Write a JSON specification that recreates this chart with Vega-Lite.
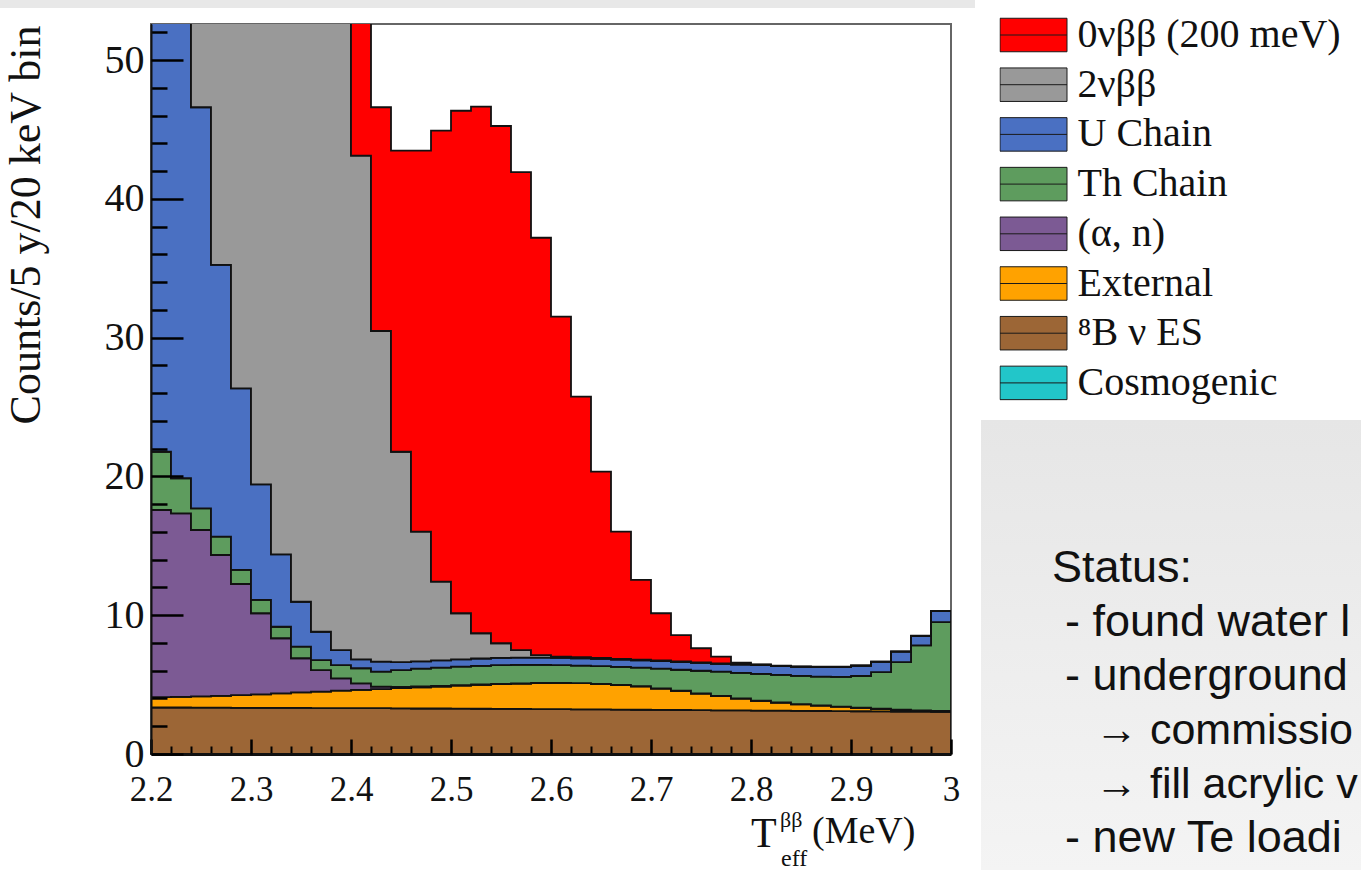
{
  "$schema": "https://vega.github.io/schema/vega-lite/v6.json",
  "width": 800,
  "height": 730,
  "autosize": {"type": "none"},
  "padding": {"left": 151, "top": 24, "right": 410, "bottom": 116},
  "background": "white",
  "view": {"stroke": "#666666", "strokeWidth": 2},
  "resolve": {"axis": {"x": "independent", "y": "independent"}},
  "layer": [
    {
      "data": {"values": [{}]},
      "mark": {"type": "rect", "color": "#e8e8e8"},
      "encoding": {
        "x": {"datum": 2.049, "type": "quantitative", "scale": {"domain": [2.2, 3.0], "nice": false, "zero": false},
              "axis": {"orient": "bottom", "values": [2.22,2.24,2.26,2.28,2.32,2.34,2.36,2.38,2.42,2.44,2.46,2.48,2.52,2.54,2.56,2.58,2.62,2.64,2.66,2.68,2.72,2.74,2.76,2.78,2.82,2.84,2.86,2.88,2.92,2.94,2.96,2.98],
                       "offset": -8, "tickSize": 8, "tickWidth": 2, "tickColor": "#000000", "labels": false, "domain": false, "grid": false, "title": null, "zindex": 2}},
        "x2": {"datum": 3.024},
        "y": {"datum": 54.33, "type": "quantitative", "scale": {"domain": [0, 52.6], "nice": false}, "axis": null},
        "y2": {"datum": 53.75}
      }
    },
    {
      "data": {"values": [{}]},
      "mark": {"type": "rect", "fill": {"gradient": "linear", "x1": 0, "y1": 0, "x2": 0, "y2": 1, "stops": [{"offset": 0, "color": "#e6e6e6"}, {"offset": 1, "color": "#f4f4f4"}]}},
      "encoding": {
        "x": {"datum": 3.03, "type": "quantitative", "scale": {"domain": [2.2, 3.0], "nice": false, "zero": false}, "axis": null},
        "x2": {"datum": 3.41},
        "y": {"datum": 24.07, "type": "quantitative", "scale": {"domain": [0, 52.6], "nice": false},
              "axis": {"orient": "left", "values": [2,4,6,8,12,14,16,18,22,24,26,28,32,34,36,38,42,44,46,48,52],
                       "offset": -16, "tickSize": 16, "tickWidth": 2.5, "tickColor": "#000000", "labels": false, "domain": false, "grid": false, "title": null, "zindex": 2}},
        "y2": {"datum": -8.36}
      }
    },
    {
      "data": {"values": [
        {"E": 2.20, "k1_b8": 3.35, "k2_ext": 0.75, "k3_an": 13.48, "k4_th": 4.20, "k5_u": 40.0, "k6_two": 95, "k7_zero": 0.5},
        {"E": 2.22, "k1_b8": 3.35, "k2_ext": 0.77, "k3_an": 13.22, "k4_th": 2.53, "k5_u": 36.1, "k6_two": 90, "k7_zero": 0.7},
        {"E": 2.24, "k1_b8": 3.34, "k2_ext": 0.81, "k3_an": 11.99, "k4_th": 1.56, "k5_u": 28.9, "k6_two": 84, "k7_zero": 1.0},
        {"E": 2.26, "k1_b8": 3.34, "k2_ext": 0.85, "k3_an": 10.15, "k4_th": 1.32, "k5_u": 19.58, "k6_two": 78, "k7_zero": 1.4},
        {"E": 2.28, "k1_b8": 3.33, "k2_ext": 0.91, "k3_an": 8.01, "k4_th": 1.01, "k5_u": 13.09, "k6_two": 72, "k7_zero": 2.0},
        {"E": 2.30, "k1_b8": 3.33, "k2_ext": 0.97, "k3_an": 5.84, "k4_th": 0.96, "k5_u": 8.33, "k6_two": 66, "k7_zero": 2.8},
        {"E": 2.32, "k1_b8": 3.32, "k2_ext": 1.05, "k3_an": 3.97, "k4_th": 0.83, "k5_u": 5.22, "k6_two": 61, "k7_zero": 3.8},
        {"E": 2.34, "k1_b8": 3.32, "k2_ext": 1.12, "k3_an": 2.46, "k4_th": 0.83, "k5_u": 3.24, "k6_two": 56, "k7_zero": 5.0},
        {"E": 2.36, "k1_b8": 3.31, "k2_ext": 1.19, "k3_an": 1.55, "k4_th": 0.72, "k5_u": 2.04, "k6_two": 51, "k7_zero": 6.6},
        {"E": 2.38, "k1_b8": 3.31, "k2_ext": 1.25, "k3_an": 0.89, "k4_th": 0.96, "k5_u": 1.08, "k6_two": 46.5, "k7_zero": 8.5},
        {"E": 2.40, "k1_b8": 3.30, "k2_ext": 1.32, "k3_an": 0.47, "k4_th": 1.09, "k5_u": 0.64, "k6_two": 36.29, "k7_zero": 12.0},
        {"E": 2.42, "k1_b8": 3.30, "k2_ext": 1.38, "k3_an": 0.17, "k4_th": 1.08, "k5_u": 0.72, "k6_two": 23.83, "k7_zero": 16.12},
        {"E": 2.44, "k1_b8": 3.29, "k2_ext": 1.45, "k3_an": 0.10, "k4_th": 1.21, "k5_u": 0.57, "k6_two": 15.16, "k7_zero": 21.69},
        {"E": 2.46, "k1_b8": 3.28, "k2_ext": 1.52, "k3_an": 0.07, "k4_th": 1.28, "k5_u": 0.53, "k6_two": 9.34, "k7_zero": 27.45},
        {"E": 2.48, "k1_b8": 3.28, "k2_ext": 1.58, "k3_an": 0.05, "k4_th": 1.31, "k5_u": 0.53, "k6_two": 5.67, "k7_zero": 32.49},
        {"E": 2.50, "k1_b8": 3.27, "k2_ext": 1.65, "k3_an": 0.04, "k4_th": 1.34, "k5_u": 0.52, "k6_two": 3.32, "k7_zero": 36.21},
        {"E": 2.52, "k1_b8": 3.26, "k2_ext": 1.72, "k3_an": 0.03, "k4_th": 1.34, "k5_u": 0.53, "k6_two": 1.82, "k7_zero": 37.94},
        {"E": 2.54, "k1_b8": 3.25, "k2_ext": 1.78, "k3_an": 0.03, "k4_th": 1.34, "k5_u": 0.52, "k6_two": 1.06, "k7_zero": 37.27},
        {"E": 2.56, "k1_b8": 3.25, "k2_ext": 1.82, "k3_an": 0.02, "k4_th": 1.33, "k5_u": 0.53, "k6_two": 0.54, "k7_zero": 34.43},
        {"E": 2.58, "k1_b8": 3.24, "k2_ext": 1.86, "k3_an": 0.02, "k4_th": 1.30, "k5_u": 0.53, "k6_two": 0.18, "k7_zero": 30.07},
        {"E": 2.60, "k1_b8": 3.23, "k2_ext": 1.89, "k3_an": 0.01, "k4_th": 1.27, "k5_u": 0.53, "k6_two": 0.09, "k7_zero": 24.49},
        {"E": 2.62, "k1_b8": 3.22, "k2_ext": 1.88, "k3_an": 0.01, "k4_th": 1.26, "k5_u": 0.53, "k6_two": 0.08, "k7_zero": 18.77},
        {"E": 2.64, "k1_b8": 3.21, "k2_ext": 1.84, "k3_an": 0.01, "k4_th": 1.27, "k5_u": 0.52, "k6_two": 0.07, "k7_zero": 13.42},
        {"E": 2.66, "k1_b8": 3.20, "k2_ext": 1.77, "k3_an": 0.01, "k4_th": 1.30, "k5_u": 0.52, "k6_two": 0.06, "k7_zero": 9.16},
        {"E": 2.68, "k1_b8": 3.19, "k2_ext": 1.68, "k3_an": 0.01, "k4_th": 1.34, "k5_u": 0.53, "k6_two": 0.05, "k7_zero": 5.74},
        {"E": 2.70, "k1_b8": 3.18, "k2_ext": 1.54, "k3_an": 0.01, "k4_th": 1.42, "k5_u": 0.55, "k6_two": 0.04, "k7_zero": 3.40},
        {"E": 2.72, "k1_b8": 3.17, "k2_ext": 1.38, "k3_an": 0.01, "k4_th": 1.51, "k5_u": 0.56, "k6_two": 0.04, "k7_zero": 1.90},
        {"E": 2.74, "k1_b8": 3.16, "k2_ext": 1.20, "k3_an": 0.01, "k4_th": 1.63, "k5_u": 0.57, "k6_two": 0.03, "k7_zero": 1.02},
        {"E": 2.76, "k1_b8": 3.15, "k2_ext": 1.02, "k3_an": 0.01, "k4_th": 1.75, "k5_u": 0.57, "k6_two": 0.03, "k7_zero": 0.48},
        {"E": 2.78, "k1_b8": 3.14, "k2_ext": 0.86, "k3_an": 0.01, "k4_th": 1.84, "k5_u": 0.60, "k6_two": 0.03, "k7_zero": 0.10},
        {"E": 2.80, "k1_b8": 3.13, "k2_ext": 0.70, "k3_an": 0.01, "k4_th": 1.93, "k5_u": 0.63, "k6_two": 0.03, "k7_zero": 0.03},
        {"E": 2.82, "k1_b8": 3.12, "k2_ext": 0.58, "k3_an": 0.01, "k4_th": 1.99, "k5_u": 0.63, "k6_two": 0.02, "k7_zero": 0.02},
        {"E": 2.84, "k1_b8": 3.11, "k2_ext": 0.47, "k3_an": 0.01, "k4_th": 2.04, "k5_u": 0.65, "k6_two": 0.02, "k7_zero": 0.01},
        {"E": 2.86, "k1_b8": 3.10, "k2_ext": 0.39, "k3_an": 0.01, "k4_th": 2.08, "k5_u": 0.68, "k6_two": 0.02, "k7_zero": 0.01},
        {"E": 2.88, "k1_b8": 3.09, "k2_ext": 0.32, "k3_an": 0.01, "k4_th": 2.14, "k5_u": 0.70, "k6_two": 0.02, "k7_zero": 0.01},
        {"E": 2.90, "k1_b8": 3.08, "k2_ext": 0.25, "k3_an": 0.01, "k4_th": 2.28, "k5_u": 0.74, "k6_two": 0.01, "k7_zero": 0.01},
        {"E": 2.92, "k1_b8": 3.07, "k2_ext": 0.18, "k3_an": 0.01, "k4_th": 2.64, "k5_u": 0.74, "k6_two": 0.01, "k7_zero": 0.01},
        {"E": 2.94, "k1_b8": 3.06, "k2_ext": 0.13, "k3_an": 0.01, "k4_th": 3.42, "k5_u": 0.75, "k6_two": 0.01, "k7_zero": 0.01},
        {"E": 2.96, "k1_b8": 3.05, "k2_ext": 0.09, "k3_an": 0.01, "k4_th": 4.67, "k5_u": 0.68, "k6_two": 0.01, "k7_zero": 0.01},
        {"E": 2.98, "k1_b8": 3.04, "k2_ext": 0.06, "k3_an": 0.01, "k4_th": 6.39, "k5_u": 0.80, "k6_two": 0.01, "k7_zero": 0.01},
        {"E": 3.00, "k1_b8": 3.04, "k2_ext": 0.06, "k3_an": 0.01, "k4_th": 6.39, "k5_u": 0.80, "k6_two": 0.01, "k7_zero": 0.01}
      ]},
      "transform": [{"fold": ["k1_b8", "k2_ext", "k3_an", "k4_th", "k5_u", "k6_two", "k7_zero"], "as": ["comp", "n"]}],
      "mark": {"type": "area", "interpolate": "step-after", "clip": true, "stroke": "#111111", "strokeWidth": 1.8, "opacity": 1},
      "encoding": {
        "x": {"field": "E", "type": "quantitative", "scale": {"domain": [2.2, 3.0], "nice": false, "zero": false},
              "axis": {"orient": "bottom", "values": [2.2, 2.3, 2.4, 2.5, 2.6, 2.7, 2.8, 2.9, 3.0], "format": "~g",
                       "ticks": false, "domainColor": "#111111", "domainWidth": 3,
                       "labelFont": "Liberation Serif", "labelFontSize": 35, "labelColor": "#111111", "labelPadding": 18,
                       "labelFlush": false, "labelOverlap": false, "labelBound": false, "grid": false, "title": null, "zindex": 2}},
        "y": {"field": "n", "type": "quantitative", "stack": "zero", "scale": {"domain": [0, 52.6], "nice": false},
              "axis": {"orient": "left", "values": [0, 10, 20, 30, 40, 50],
                       "ticks": false, "domainColor": "#111111", "domainWidth": 2,
                       "labelFont": "Liberation Serif", "labelFontSize": 40, "labelColor": "#111111", "labelPadding": 7,
                       "labelFlush": false, "labelOverlap": false, "labelBound": false, "grid": false, "zindex": 2,
                       "title": "Counts/5 y/20 keV bin", "titleFont": "Liberation Serif", "titleFontSize": 44, "titleFontWeight": "normal",
                       "titleColor": "#111111", "titleX": -112, "titleY": 1, "titleAlign": "right", "titleAngle": 270, "titleBaseline": "alphabetic"}},
        "color": {"field": "comp", "type": "nominal",
                  "scale": {"domain": ["k7_zero", "k6_two", "k5_u", "k4_th", "k3_an", "k2_ext", "k1_b8", "k0_cos"],
                            "range": ["#ff0000", "#999999", "#4a70c2", "#5e9c5e", "#7c5a94", "#ffa200", "#9c6636", "#22c6c9"]},
                  "legend": {"orient": "none", "legendX": 848.5, "legendY": -9, "title": null, "padding": 0,
                             "symbolType": "M-1,-0.5H1V0.5H-1Z M-1,0H1", "symbolSize": 4489, "symbolStrokeColor": "#1a1a1a",
                             "symbolStrokeWidth": 1, "symbolOpacity": 1, "clipHeight": 40, "rowPadding": 9.7, "labelOffset": 10,
                             "labelFont": "Liberation Serif", "labelFontSize": 40, "labelColor": "#111111", "labelLimit": 400,
                             "labelExpr": "datum.label == 'k7_zero' ? '0νββ (200 meV)' : datum.label == 'k6_two' ? '2νββ' : datum.label == 'k5_u' ? 'U Chain' : datum.label == 'k4_th' ? 'Th Chain' : datum.label == 'k3_an' ? '(α, n)' : datum.label == 'k2_ext' ? 'External' : datum.label == 'k1_b8' ? '⁸B ν ES' : 'Cosmogenic'"}},
        "order": {"field": "comp", "sort": "ascending"}
      }
    },
    {
      "data": {"values": [{}]},
      "mark": {"type": "text", "text": "Status:", "align": "left", "baseline": "alphabetic", "font": "Liberation Sans", "fontSize": 45, "color": "#111111"},
      "encoding": {
        "x": {"datum": 3.101, "type": "quantitative", "scale": {"domain": [2.2, 3.0], "nice": false, "zero": false}, "axis": null},
        "y": {"datum": 12.39, "type": "quantitative", "scale": {"domain": [0, 52.6], "nice": false}, "axis": null}
      }
    },
    {
      "data": {"values": [{}]},
      "mark": {"type": "text", "text": ["- found water l", "- underground"], "lineHeight": 54, "align": "left", "baseline": "alphabetic", "font": "Liberation Sans", "fontSize": 45, "color": "#111111"},
      "encoding": {
        "x": {"datum": 3.114, "type": "quantitative", "scale": {"domain": [2.2, 3.0], "nice": false, "zero": false}, "axis": null},
        "y": {"datum": 8.5, "type": "quantitative", "scale": {"domain": [0, 52.6], "nice": false}, "axis": null}
      }
    },
    {
      "data": {"values": [{}]},
      "mark": {"type": "text", "text": ["→ commissio", "→ fill acrylic v"], "lineHeight": 54, "align": "left", "baseline": "alphabetic", "font": "Liberation Sans", "fontSize": 43, "color": "#111111"},
      "encoding": {
        "x": {"datum": 3.144, "type": "quantitative", "scale": {"domain": [2.2, 3.0], "nice": false, "zero": false}, "axis": null},
        "y": {"datum": 0.72, "type": "quantitative", "scale": {"domain": [0, 52.6], "nice": false}, "axis": null}
      }
    },
    {
      "data": {"values": [{}]},
      "mark": {"type": "text", "text": "- new Te loadi", "align": "left", "baseline": "alphabetic", "font": "Liberation Sans", "fontSize": 45, "color": "#111111"},
      "encoding": {
        "x": {"datum": 3.114, "type": "quantitative", "scale": {"domain": [2.2, 3.0], "nice": false, "zero": false}, "axis": null},
        "y": {"datum": -7.06, "type": "quantitative", "scale": {"domain": [0, 52.6], "nice": false}, "axis": null}
      }
    },
    {
      "data": {"values": [{}]},
      "mark": {"type": "text", "text": "T", "align": "left", "baseline": "alphabetic", "font": "Liberation Serif", "fontSize": 42, "color": "#111111"},
      "encoding": {
        "x": {"datum": 2.8, "type": "quantitative", "scale": {"domain": [2.2, 3.0], "nice": false, "zero": false},
              "axis": {"orient": "bottom", "values": [2.2, 2.3, 2.4, 2.5, 2.6, 2.7, 2.8, 2.9, 3.0],
                       "offset": -15, "tickSize": 15, "tickWidth": 2.5, "tickColor": "#000000", "labels": false, "domain": false, "grid": false, "title": null, "zindex": 2}},
        "y": {"datum": -6.7, "type": "quantitative", "scale": {"domain": [0, 52.6], "nice": false}, "axis": null}
      }
    },
    {
      "data": {"values": [{}]},
      "mark": {"type": "text", "text": "ββ", "align": "left", "baseline": "alphabetic", "font": "Liberation Serif", "fontSize": 22, "color": "#111111"},
      "encoding": {
        "x": {"datum": 2.829, "type": "quantitative", "scale": {"domain": [2.2, 3.0], "nice": false, "zero": false}, "axis": null},
        "y": {"datum": -5.26, "type": "quantitative", "scale": {"domain": [0, 52.6], "nice": false}, "axis": null}
      }
    },
    {
      "data": {"values": [{}]},
      "mark": {"type": "text", "text": "eff", "align": "left", "baseline": "alphabetic", "font": "Liberation Serif", "fontSize": 24, "color": "#111111"},
      "encoding": {
        "x": {"datum": 2.83, "type": "quantitative", "scale": {"domain": [2.2, 3.0], "nice": false, "zero": false}, "axis": null},
        "y": {"datum": -8.07, "type": "quantitative", "scale": {"domain": [0, 52.6], "nice": false}, "axis": null}
      }
    },
    {
      "data": {"values": [{}]},
      "mark": {"type": "text", "text": "(MeV)", "align": "left", "baseline": "alphabetic", "font": "Liberation Serif", "fontSize": 38, "color": "#111111"},
      "encoding": {
        "x": {"datum": 2.861, "type": "quantitative", "scale": {"domain": [2.2, 3.0], "nice": false, "zero": false}, "axis": null},
        "y": {"datum": -6.41, "type": "quantitative", "scale": {"domain": [0, 52.6], "nice": false},
              "axis": {"orient": "left", "values": [0, 10, 20, 30, 40, 50],
                       "offset": -32, "tickSize": 32, "tickWidth": 2.5, "tickColor": "#000000", "labels": false, "domain": false, "grid": false, "title": null, "zindex": 2}}
      }
    }
  ]
}
